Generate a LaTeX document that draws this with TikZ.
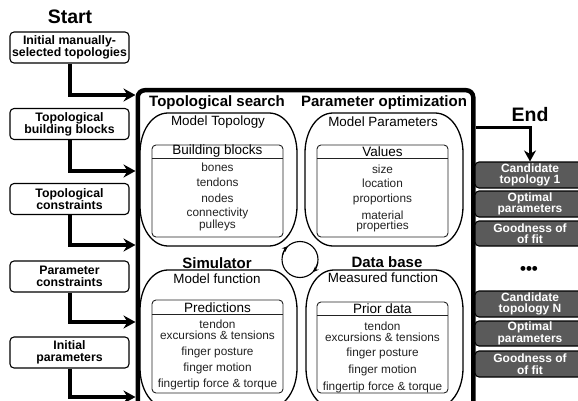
\documentclass[tikz,border=0pt]{standalone}
\usepackage{fontspec}
\setmainfont{Liberation Sans}
\usetikzlibrary{arrows.meta}
\definecolor{boxgray}{HTML}{5A5A5A}
\definecolor{inkgray}{HTML}{222222}
\newcommand{\ovalshape}[4]{%
  \draw[ovalline] (#1,#2+40) .. controls (#1,#2+18) and (#1+12,#2) .. (#1+28,#2)
    -- (#3-28,#2) .. controls (#3-12,#2) and (#3,#2+18) .. (#3,#2+40)
    -- (#3,#4-40) .. controls (#3,#4-18) and (#3-12,#4) .. (#3-28,#4)
    -- (#1+28,#4) .. controls (#1+12,#4) and (#1,#4-18) .. (#1,#4-40) -- cycle;}
\begin{document}
\begin{tikzpicture}[x=1pt,y=-1pt,
  lbox/.style={draw, line width=1.1pt, rounded corners=4pt, minimum width=119pt, minimum height=31pt, inner sep=0pt, align=center, font=\fontsize{12.3}{12}\selectfont\bfseries},
  rbox/.style={draw, line width=1.1pt, rounded corners=4pt, fill=boxgray, text=white, minimum width=110pt, inner sep=0pt, align=center, font=\fontsize{12}{11.5}\selectfont\bfseries},
  feed/.style={line width=4pt, -{Stealth[length=12pt,width=13pt,inset=4pt]}},
  endarr/.style={line width=3pt, -{Stealth[length=11pt,width=12pt,inset=3.5pt]}},
  ovalline/.style={line width=1.3pt},
  ibox/.style={draw=inkgray, line width=0.9pt, rounded corners=4pt, inner sep=0pt},
  bigtitle/.style={inner sep=0pt, font=\fontsize{19.5}{20}\selectfont\bfseries},
  ttl/.style={inner sep=0pt, font=\fontsize{15}{15}\selectfont\bfseries},
  sub/.style={inner sep=0pt, font=\fontsize{13.4}{13}\selectfont},
  hdr/.style={inner sep=0pt, font=\fontsize{13.5}{13}\selectfont},
  item/.style={inner sep=0pt, text=inkgray, align=center, font=\fontsize{11.8}{10.5}\selectfont},
]
\useasboundingbox (0,0) rectangle (578,401);
\clip (0,0) rectangle (578,401);

% main frame
\node[draw, line width=4.5pt, rounded corners=7pt, minimum width=335.5pt, minimum height=342pt, inner sep=0pt, anchor=north west] (main) at (135.5,88) {};

% left inputs
\node[bigtitle] (start) at (70,17) {Start};
\node[lbox] (b1) at (69.5,47.5) {Initial manually-\\selected topologies};
\node[lbox] (b2) at (69.5,124) {Topological\\building blocks};
\node[lbox] (b3) at (69.5,199) {Topological\\constraints};
\node[lbox] (b4) at (69.5,276.5) {Parameter\\constraints};
\node[lbox] (b5) at (69.5,352.5) {Initial\\parameters};

\draw[feed] (b1.south) |- (main.west |- 0,95);
\draw[feed] (b2.south) |- (main.west |- 0,171);
\draw[feed] (b3.south) |- (main.west |- 0,245);
\draw[feed] (b4.south) |- (main.west |- 0,322);
\draw[feed] (b5.south) |- (main.west |- 0,397);

% ovals
\ovalshape{140}{113}{297}{246}
\ovalshape{305}{113}{463}{246}
\ovalshape{140}{270}{297}{408}
\ovalshape{306}{270}{463}{408}

% titles
\node[ttl] (t1) at (217,103) {Topological search};
\node[ttl] (t2) at (384,103) {Parameter optimization};
\node[sub] (s1) at (218,122) {Model Topology};
\node[sub] (s2) at (383,122) {Model Parameters};
\node[ttl] (t3) at (217,263) {Simulator};
\node[sub] (s3) at (217,278.5) {Model function};
\node[ttl] (t4) at (387,262) {Data base};
\node[sub] (s4) at (383,277.5) {Measured function};

% inner boxes
\node[ibox, minimum width=131pt, minimum height=92pt] (bb) at (217.5,191) {};
\draw[inkgray, line width=0.9pt] (bb.west |- 0,158) -- (bb.east |- 0,158);
\node[hdr] (bbh) at (217.5,151.5) {Building blocks};
\node[item] (i1) at (217.5,167) {bones};
\node[item] (i2) at (217.5,182) {tendons};
\node[item] (i3) at (217.5,198) {nodes};
\node[item] (i4) at (217.5,213) {connectivity};
\node[item] (i5) at (217.5,225.5) {pulleys};

\node[ibox, minimum width=131pt, minimum height=92pt] (vv) at (382.5,191) {};
\draw[inkgray, line width=0.9pt] (vv.west |- 0,158) -- (vv.east |- 0,158);
\node[hdr] (vvh) at (382.5,151.5) {Values};
\node[item] (v1) at (382.5,169) {size};
\node[item] (v2) at (382.5,183) {location};
\node[item] (v3) at (382.5,199) {proportions};
\node[item] (v4) at (382.5,221.5) {material\\properties};

\node[ibox, minimum width=131pt, minimum height=93pt] (pp) at (217.5,346.5) {};
\draw[inkgray, line width=0.9pt] (pp.west |- 0,314) -- (pp.east |- 0,314);
\node[hdr] (pph) at (217.5,307.5) {Predictions};
\node[item] (p1) at (217.5,330) {tendon\\excursions \& tensions};
\node[item] (p2) at (217.5,352) {finger posture};
\node[item] (p3) at (217.5,368) {finger motion};
\node[item] (p4) at (217.5,384.5) {fingertip force \& torque};

\node[ibox, minimum width=131pt, minimum height=91pt] (pd) at (382.5,347.5) {};
\draw[inkgray, line width=0.9pt] (pd.west |- 0,315.5) -- (pd.east |- 0,315.5);
\node[hdr] (pdh) at (382.5,309) {Prior data};
\node[item] (d1) at (382.5,332) {tendon\\excursions \& tensions};
\node[item] (d2) at (382.5,353.5) {finger posture};
\node[item] (d3) at (382.5,370) {finger motion};
\node[item] (d4) at (382.5,387) {fingertip force \& torque};

% cycle circle
\coordinate (cc) at (300,259.5);
\draw[line width=1.1pt] (cc) circle[radius=18];
\draw[line width=1.1pt, -{Stealth[length=6pt,width=5pt]}] (cc) ++(195:18) arc[start angle=195, end angle=228, radius=18];
\draw[line width=1.1pt, -{Stealth[length=6pt,width=5pt]}] (cc) ++(10:18) arc[start angle=10, end angle=45, radius=18];

% outputs
\node[bigtitle] (end) at (530,115) {End};
\node[rbox, minimum height=26pt] (c1) at (530,175) {Candidate\\topology 1};
\node[rbox, minimum height=26pt] (o1) at (530,204) {Optimal\\parameters};
\node[rbox, minimum height=25pt] (g1) at (530,233.5) {Goodness of\\of fit};
\node[inner sep=0pt, font=\fontsize{17}{17}\selectfont\bfseries] (dots) at (529,270) {•••};
\node[rbox, minimum height=26pt] (cN) at (530,304) {Candidate\\topology N};
\node[rbox, minimum height=25pt] (oN) at (530,333.5) {Optimal\\parameters};
\node[rbox, minimum height=26pt] (gN) at (530,364) {Goodness of\\of fit};

\draw[endarr] (main.east |- 0,128) -| (c1.north);
\end{tikzpicture}
\end{document}
